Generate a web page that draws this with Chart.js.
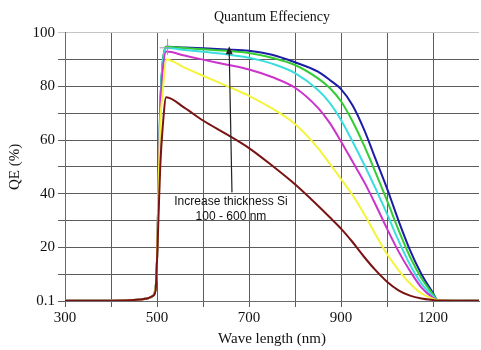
<!DOCTYPE html>
<html>
<head>
<meta charset="utf-8">
<script src="https://cdn.jsdelivr.net/npm/chart.js@4"></script>
<style>
  html, body { margin: 0; padding: 0; background: #fff; }
  #chart { display: block; }
</style>
</head>
<body>
<canvas id="chart" width="481" height="350"></canvas>
<script>
// wavelength grid (x axis units) and QE values (%)
const wavelength = [300, 400, 450, 480, 490, 497, 500, 503, 507, 512, 520, 560, 600, 650, 700, 750, 800, 850, 875, 900, 925, 950, 975, 1000, 1025, 1050, 1075, 1100, 1110, 1200];

const qeBrown   = [0.1, 0.1, 0.4, 1, 1.8, 4, 15, 30, 50, 64, 76, 72, 67.3, 62.3, 57, 50.5, 43.5, 35.5, 31.3, 27, 22, 16.5, 11.5, 7.2, 4, 2, 0.9, 0.35, 0.2, 0.1];
const qeYellow  = [0.1, 0.1, 0.4, 1, 1.8, 5, 15, 40, 66, 77, 90, 87, 84, 80.3, 76.5, 71.8, 66, 57, 51.3, 45.5, 39.5, 32.5, 24.8, 17.5, 11.5, 6.5, 2.8, 0.8, 0.3, 0.1];
const qeMagenta = [0.1, 0.1, 0.4, 1, 1.8, 5, 15, 40, 70, 85, 93, 91.5, 90, 88.2, 86.3, 83.5, 79.5, 72, 66.5, 59.5, 52, 44.5, 36, 27, 18.5, 11.2, 5, 1.2, 0.3, 0.1];
const qeCyan    = [0.1, 0.1, 0.4, 1, 1.8, 5, 15, 40, 72, 88, 94.3, 93.6, 92.9, 92, 90.7, 88.5, 85, 78.7, 74, 67.5, 59.5, 51, 42, 32.5, 22.5, 13.5, 6.5, 1.8, 0.3, 0.1];
const qeGreen   = [0.1, 0.1, 0.4, 1, 1.8, 5, 15, 40, 72, 88, 94.8, 94.3, 93.9, 93.3, 92.5, 90.7, 88, 83, 79.5, 74.5, 67, 58, 48, 37.5, 26.5, 16.5, 8.5, 2.5, 0.3, 0.1];
const qeBlue    = [0.1, 0.1, 0.4, 1, 1.8, 5, 15, 40, 72, 88, 94.8, 94.5, 94.2, 93.8, 93.3, 91.8, 89, 85.5, 82.5, 79, 73, 64, 53, 42, 30, 19, 10, 3, 0.3, 0.1];

// ticks as printed on the original axes
const xTickValues = [300, 400, 500, 600, 700, 800, 900, 1000, 1100, 1200];
const xTickLabels = ['300', '', '500', '', '700', '', '900', '', '1200', ''];
const yTickValues = [0, 10, 20, 30, 40, 50, 60, 70, 80, 90, 100];
const yTickLabels = ['0.1', '', '20', '', '40', '', '60', '', '80', '', '100'];

const noteLines = ['Increase thickness Si', '100 - 600 nm'];

const serif = 'Liberation Serif';
const sans = 'Liberation Sans';

function toPoints(values) {
    return wavelength.map((w, i) => ({ x: w, y: values[i] }));
}

function series(values, color) {
    return {
        data: toPoints(values),
        borderColor: color,
        borderWidth: 2,
        pointRadius: 0,
        fill: false,
        cubicInterpolationMode: 'monotone'
    };
}

// arrow + label drawn over the plot
const notePlugin = {
    id: 'note',
    afterDatasetsDraw(chart) {
        const { ctx, scales: { x, y } } = chart;
        const bx = x.getPixelForValue(663), by = y.getPixelForValue(40.5);
        const tx = x.getPixelForValue(657), ty = y.getPixelForValue(95);

        ctx.save();
        ctx.strokeStyle = '#222';
        ctx.fillStyle = '#222';
        ctx.lineWidth = 1.2;
        ctx.beginPath();
        ctx.moveTo(bx, by);
        ctx.lineTo(tx, ty + 6);
        ctx.stroke();
        ctx.beginPath();
        ctx.moveTo(tx, ty);
        ctx.lineTo(tx - 3.5, ty + 8);
        ctx.lineTo(tx + 3.5, ty + 8);
        ctx.closePath();
        ctx.fill();

        // small cursor mark at the peak
        const cx = x.getPixelForValue(523), cy = y.getPixelForValue(94.4);
        ctx.strokeStyle = '#9a9aa8';
        ctx.lineWidth = 1;
        ctx.beginPath();
        ctx.moveTo(cx, cy - 9);
        ctx.lineTo(cx, cy + 7);
        ctx.moveTo(cx - 8, cy);
        ctx.lineTo(cx + 4, cy);
        ctx.stroke();

        ctx.fillStyle = '#111';
        ctx.font = '12px ' + sans;
        ctx.textAlign = 'center';
        ctx.textBaseline = 'middle';
        noteLines.forEach((line, i) => {
            ctx.fillText(line, bx - 1, by + 9 + i * 15);
        });
        ctx.restore();
    }
};

const ctx = document.getElementById('chart').getContext('2d');
new Chart(ctx, {
    type: 'line',
    data: {
        datasets: [
            series(qeBrown, '#7a1414'),
            series(qeYellow, '#f4f43c'),
            series(qeMagenta, '#cc33cc'),
            series(qeCyan, '#3adede'),
            series(qeGreen, '#33cc33'),
            series(qeBlue, '#1c1ca6')
        ]
    },
    options: {
        responsive: false,
        animation: false,
        layout: { padding: 0 },
        plugins: {
            legend: { display: false },
            tooltip: { enabled: false },
            title: {
                display: true,
                text: 'Quantum Effeciency',
                fullSize: false,
                color: '#111',
                font: { family: serif, size: 14, weight: 'normal' },
                padding: { top: 9, bottom: 7 }
            }
        },
        scales: {
            x: {
                type: 'linear',
                min: 300,
                max: 1200,
                afterBuildTicks: scale => {
                    scale.ticks = xTickValues.map(v => ({ value: v }));
                },
                afterFit: scale => {
                    scale.height = 49;
                },
                ticks: {
                    autoSkip: false,
                    maxRotation: 0,
                    padding: 2,
                    color: '#111',
                    font: { family: serif, size: 15 },
                    callback: (value, index) => xTickLabels[index]
                },
                grid: {
                    tickLength: 6,
                    lineWidth: 1,
                    color: c => (c.tick && c.tick.value === 1200) ? 'rgba(0,0,0,0)' : '#5c5c5c'
                },
                border: { color: '#6a6a6a' },
                title: {
                    display: true,
                    text: 'Wave length (nm)',
                    color: '#111',
                    font: { family: serif, size: 15 },
                    padding: { top: 0, bottom: 2 }
                }
            },
            y: {
                min: 0,
                max: 100,
                afterBuildTicks: scale => {
                    scale.ticks = yTickValues.map(v => ({ value: v }));
                },
                afterFit: scale => {
                    scale.width = 65;
                },
                ticks: {
                    autoSkip: false,
                    padding: 3,
                    color: '#111',
                    font: { family: serif, size: 15 },
                    callback: (value, index) => yTickLabels[index]
                },
                grid: {
                    tickLength: 7,
                    lineWidth: 1,
                    color: c => (c.tick && c.tick.value === 100) ? '#c4c4c4' : '#5c5c5c'
                },
                border: { color: '#6a6a6a' },
                title: {
                    display: true,
                    text: 'QE (%)',
                    color: '#111',
                    font: { family: serif, size: 15 },
                    padding: { top: 6, bottom: 0 }
                }
            }
        }
    },
    plugins: [notePlugin]
});
</script>
</body>
</html>
